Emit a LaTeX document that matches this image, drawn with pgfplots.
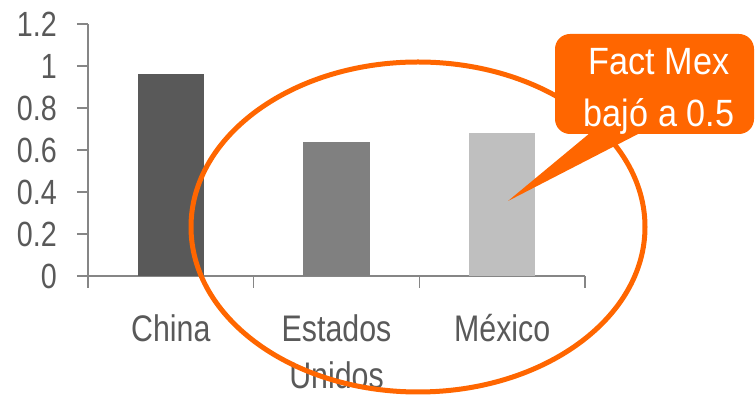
\documentclass[border=0pt]{standalone}
\usepackage{fontspec}
\setmainfont{Liberation Sans}[FakeStretch=0.82]
\newfontfamily\callfont{Liberation Sans}[FakeStretch=0.9]
\usepackage{pgfplots}
\pgfplotsset{compat=1.18}
\definecolor{axgray}{HTML}{868686}
\definecolor{txtgray}{HTML}{595959}
\definecolor{orng}{HTML}{FF6600}
\definecolor{barA}{HTML}{595959}
\definecolor{barB}{HTML}{808080}
\definecolor{barC}{HTML}{BFBFBF}
\begin{document}
\begin{tikzpicture}[x=1pt,y=1pt]
\path[use as bounding box] (0,0) rectangle (756,395);
\begin{axis}[
  at={(88pt,119pt)}, anchor=south west,
  scale only axis, width=497pt, height=252pt,
  xmin=-0.5, xmax=2.5, ymin=0, ymax=1.2,
  axis x line=bottom, axis y line=left,
  axis line style={axgray, line width=1.5pt, -},
  xtick={0,1,2},
  xticklabels={China,{Estados\\Unidos},México},
  minor xtick={-0.5,0.5,1.5,2.5},
  major x tick style={draw=none},
  minor tick length=12pt, major tick length=11pt,
  tick align=outside,
  every tick/.style={axgray, line width=1.5pt},
  minor tick style={axgray, line width=1.5pt},
  ytick={0,0.2,0.4,0.6,0.8,1,1.2},
  /pgf/number format/assume math mode=true,
  yticklabel style={font=\fontsize{35}{35}\selectfont, text=txtgray, inner sep=0pt, xshift=-20pt},
  xticklabel style={font=\fontsize{37}{47}\selectfont, text=txtgray, align=center, inner sep=0pt, yshift=-27pt},
]
\addplot[ybar, bar width=0.4, fill=barA, draw=none] coordinates {(0,0.96)};
\addplot[ybar, bar width=0.4, fill=barB, draw=none] coordinates {(1,0.64)};
\addplot[ybar, bar width=0.4, fill=barC, draw=none] coordinates {(2,0.68)};
\end{axis}
\draw[orng, line width=5pt] (418,168) ellipse [x radius=227pt, y radius=165pt];
\fill[orng] (590,262) -- (640,262) -- (508,194) -- cycle;
\fill[orng, rounded corners=15pt] (555,261) rectangle (754,361);
\node[anchor=base, text=white, font=\callfont\fontsize{38}{38}\selectfont, inner sep=0pt] at (659,320) {Fact Mex};
\node[anchor=base, text=white, font=\callfont\fontsize{38}{38}\selectfont, inner sep=0pt] at (659,268) {bajó a 0.5};
\end{tikzpicture}
\end{document}
